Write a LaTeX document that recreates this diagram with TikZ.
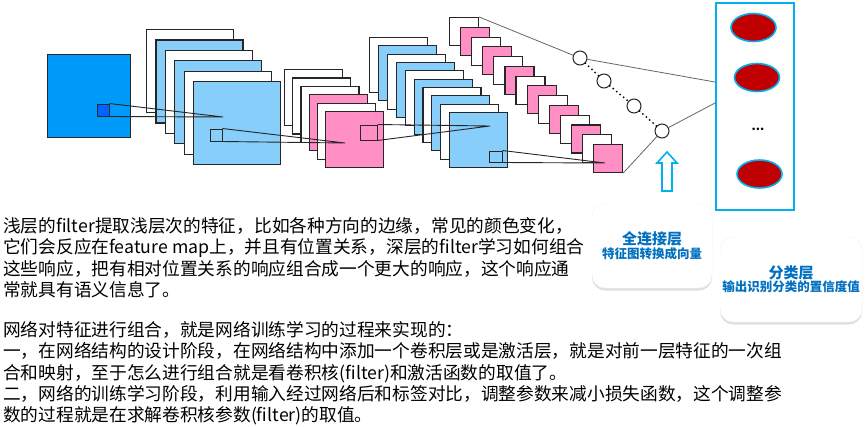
\documentclass[tikz,border=0pt]{standalone}
\usepackage{fontspec}
\setmainfont{Noto Sans CJK SC}
\usetikzlibrary{shapes.geometric,shadows}

\definecolor{inblue}{RGB}{0,155,250}
\definecolor{patchblue}{RGB}{0,100,255}
\definecolor{lblue}{RGB}{135,206,250}
\definecolor{pinkmap}{RGB}{255,143,196}
\definecolor{outline}{RGB}{0,176,240}
\definecolor{neuron}{RGB}{192,0,0}
\definecolor{labelblue}{RGB}{0,112,192}

\begin{document}
\begin{tikzpicture}[x=1pt, y=-1pt]
  \tikzstyle{fmap}=[draw=black!85, line width=1.1pt, inner sep=0pt, anchor=north west]
  \tikzstyle{patch}=[draw=black!85, line width=1pt, inner sep=0pt]
  \tikzstyle{proj}=[black!85, line width=0.9pt]
  \tikzstyle{unit}=[circle, draw=black!85, line width=1pt, fill=white, minimum size=14pt, inner sep=0pt]
  \tikzstyle{fcline}=[black!60, line width=0.8pt]
  \tikzstyle{outunit}=[ellipse, draw=outline, line width=1.6pt, fill=neuron, minimum width=45pt, minimum height=28pt]
  \tikzstyle{card}=[draw=black!5, fill=white, rounded corners=13pt, drop shadow={shadow xshift=0pt, shadow yshift=-2.5pt, opacity=0.25}, align=center, text=labelblue, font=\bfseries, inner sep=0pt]
  \tikzstyle{para}=[anchor=north west, align=left, inner sep=0pt, font=\fontsize{17.7pt}{21.4pt}\selectfont]
  \useasboundingbox (0,0) rectangle (867,426);

  % ------- feature maps -------
  \node[fmap, fill=inblue, minimum width=83pt, minimum height=83pt] (in) at (47,54) {};
  \foreach \i/\c in {0/white,1/lblue,2/white,3/lblue,4/white,5/lblue}
    \node[fmap, fill=\c, minimum width=87pt, minimum height=83pt] (fb\i) at ({146+\i*9.4},{29+\i*10.4}) {};
  \foreach \i/\c in {0/white,1/white,2/white,3/pinkmap,4/white,5/pinkmap}
    \node[fmap, fill=\c, minimum width=58pt, minimum height=56pt] (fc\i) at ({284+\i*8.2},{69+\i*8.4}) {};
  \foreach \i in {0,...,9}{
    \pgfmathsetmacro\c{ifthenelse(mod(\i,2),"lblue","white")}
    \node[fmap, fill=\c, minimum width=58pt, minimum height=55pt] (fd\i) at ({369+\i*8.9},{37+\i*8.33}) {};
  }
  \foreach \i in {0,...,13}{
    \pgfmathsetmacro\c{ifthenelse(mod(\i,2),"pinkmap","white")}
    \node[fmap, fill=\c, minimum width=29pt, minimum height=28pt] (fe\i) at ({449+\i*11.08},{17+\i*9.77}) {};
  }

  % receptive fields
  \node[patch, fill=patchblue, minimum width=12pt, minimum height=12pt] (p1) at (103,110) {};
  \node[patch, minimum width=12pt, minimum height=12pt] (p2) at (216,135) {};
  \node[patch, minimum width=17pt, minimum height=15pt] (p3) at (368.5,132.5) {};
  \node[patch, minimum width=13pt, minimum height=11pt] (p4) at (495.5,156.5) {};
  \coordinate (a1) at (223,117);
  \coordinate (a2) at (345,143);
  \coordinate (a3) at (490,126);
  \coordinate (a4) at (605,163);
  \foreach \k in {1,...,4}
    \draw[proj] (p\k.north east) -- (a\k) -- (p\k.south east);

  % ------- fully connected -------
  \node[unit] (c1) at (580,58) {};
  \node[unit] (c2) at (604,81) {};
  \node[unit] (c3) at (634,106) {};
  \node[unit] (c4) at (662,131) {};
  \draw[line width=2pt, line cap=round, dash pattern=on 0pt off 4.5pt] (c1) -- (c2);
  \draw[line width=2pt, line cap=round, dash pattern=on 0pt off 4.5pt] (c2) -- (c3);
  \draw[line width=2pt, line cap=round, dash pattern=on 0pt off 4.5pt] (c3) -- (c4);

  % ------- output layer -------
  \node[draw=outline, line width=2pt, minimum width=78pt, minimum height=207pt] (outbox) at (754.5,106.5) {};
  \node[outunit] (o1) at (753.5,27.5) {};
  \node[outunit] (o2) at (757,77.5) {};
  \node[outunit] (o3) at (759.5,174) {};
  \node[font=\bfseries\fontsize{12pt}{12pt}\selectfont] (dots) at (758,129) {...};
  \coordinate (in1) at (715,82);
  \coordinate (in2) at (715,103);

  \draw[fcline] (fe0.north east) -- (c1);
  \draw[fcline] (c1) -- (in1);
  \draw[fcline] (fe13.south east) -- (c4);
  \draw[fcline] (c4) -- (in2);

  % hollow arrow
  \draw[draw=outline, line width=1.6pt, fill=white] (667,152) -- (677,163) -- (672,163) -- (672,191) -- (662,191) -- (662,163) -- (657,163) -- cycle;

  % ------- cards -------
  \node[card, minimum width=120pt, minimum height=85pt] (fccard) at (652,245.5)
    {{\fontsize{15pt}{17pt}\selectfont 全连接层}\\{\fontsize{12.5pt}{17pt}\selectfont 特征图转换成向量}};
  \node[card, minimum width=142pt, minimum height=85pt] (clscard) at (791,279.5)
    {{\fontsize{15pt}{17pt}\selectfont 分类层}\\{\fontsize{12.5pt}{17pt}\selectfont 输出识别分类的置信度值}};

  % ------- text -------
  \node[para] (txt1) at (3,217) {浅层的filter提取浅层次的特征，比如各种方向的边缘，常见的颜色变化，\\它们会反应在feature map上，并且有位置关系，深层的filter学习如何组合\\这些响应，把有相对位置关系的响应组合成一个更大的响应，这个响应通\\常就具有语义信息了。};
  \node[para] (txt2) at (3,321) {网络对特征进行组合，就是网络训练学习的过程来实现的：\\一，在网络结构的设计阶段，在网络结构中添加一个卷积层或是激活层，就是对前一层特征的一次组\\合和映射，至于怎么进行组合就是看卷积核(filter)和激活函数的取值了。\\二，网络的训练学习阶段，利用输入经过网络后和标签对比，调整参数来减小损失函数，这个调整参\\数的过程就是在求解卷积核参数(filter)的取值。};
\end{tikzpicture}
\end{document}
